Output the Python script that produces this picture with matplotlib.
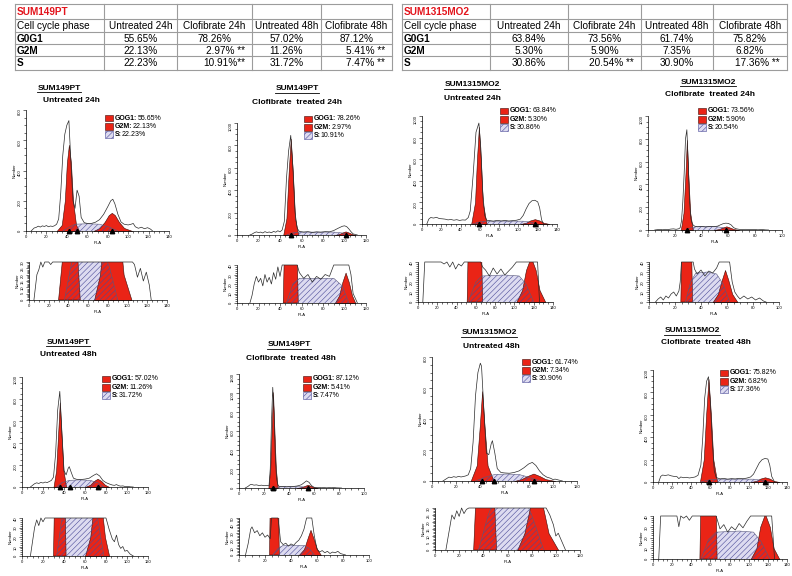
import numpy as np
import matplotlib
matplotlib.use("Agg")
from matplotlib import pyplot
from matplotlib.patches import Rectangle
from matplotlib.lines import Line2D
from matplotlib.ticker import MultipleLocator

# ---- tables ----
table_header = ["Cell cycle phase", "Untreated 24h", "Clofibrate 24h", "Untreated 48h", "Clofibrate 48h"]
phases = ["G0G1", "G2M", "S"]

sum149_g0g1 = [55.65, 78.26, 57.02, 87.12]
sum149_g2m = [22.13, 2.97, 11.26, 5.41]
sum149_s = [22.23, 10.91, 31.72, 7.47]
sum149_g0g1_sig = ["", "", "", ""]
sum149_g2m_sig = ["", " **", "", " **"]
sum149_s_sig = ["", "**", "", " **"]

sum1315_g0g1 = [63.84, 73.56, 61.74, 75.82]
sum1315_g2m = [5.30, 5.90, 7.35, 6.82]
sum1315_s = [30.86, 20.54, 30.90, 17.36]
sum1315_g0g1_sig = ["", "", "", ""]
sum1315_g2m_sig = ["", "", "", ""]
sum1315_s_sig = ["", " **", "", " **"]

# ---- histogram panels ----
panel_line = ["SUM149PT", "SUM149PT", "SUM1315MO2", "SUM1315MO2",
              "SUM149PT", "SUM149PT", "SUM1315MO2", "SUM1315MO2"]
panel_cond = ["Untreated 24h", "Clofibrate  treated 24h", "Untreated 24h", "Clofibrate  treated 24h",
              "Untreated 48h", "Clofibrate  treated 48h", "Untreated 48h", "Clofibrate  treated 48h"]
leg_g0g1 = [55.65, 78.26, 63.84, 73.56, 57.02, 87.12, 61.74, 75.82]
leg_g2m = [22.13, 2.97, 5.30, 5.90, 11.26, 5.41, 7.34, 6.82]
leg_s = [22.23, 10.91, 30.86, 20.54, 31.72, 7.47, 30.90, 17.36]

p1_raw_x = [5, 8, 10, 12, 14, 16, 18, 20, 22, 24, 26, 28, 30, 32, 34, 36, 38, 40, 42, 44, 46, 48, 50, 52, 54,
            57, 60, 64, 68, 72, 76, 80, 83, 85, 87, 90, 93, 96, 100, 103, 105, 107, 110, 113, 116, 119, 122, 124]
p1_raw_y = [0, 20, 24, 32, 26, 34, 30, 36, 28, 33, 30, 35, 45, 80, 250, 500, 640, 700, 730, 450, 200, 150, 270, 230, 90,
            55, 50, 50, 58, 75, 110, 160, 200, 210, 180, 110, 60, 45, 40, 45, 50, 28, 18, 25, 15, 22, 12, 0]
p1_g1_x = [30, 35, 38, 40, 42, 44, 46, 49, 52]
p1_g1_y = [0, 40, 200, 450, 570, 450, 200, 40, 0]
p1_g2_x = [66, 72, 77, 81, 84, 87, 91, 96, 104]
p1_g2_y = [0, 20, 60, 105, 120, 105, 60, 20, 0]
p1_s_x = [36, 42, 48, 60, 72, 82, 90]
p1_s_y = [0, 25, 45, 48, 45, 25, 0]
p1_marks = [42, 50, 84]

p2_raw_x = [12, 14, 16, 18, 20, 22, 24, 26, 28, 30, 32, 34, 36, 38, 40, 42, 44, 46, 48, 50,
            52, 54, 56, 58, 62, 66, 70, 74, 78, 82, 86, 90, 94, 98, 100, 102, 104, 106, 108, 112]
p2_raw_y = [0, 8, 20, 28, 22, 26, 18, 30, 22, 27, 20, 32, 25, 38, 28, 45, 120, 500, 750, 890,
            600, 200, 60, 32, 26, 30, 22, 28, 25, 30, 28, 40, 60, 78, 82, 75, 55, 30, 10, 0]
p2_g1_x = [43, 46, 48, 50, 52, 54, 57]
p2_g1_y = [0, 150, 550, 860, 550, 150, 0]
p2_g2_x = [91, 95, 98, 101, 104, 107, 110]
p2_g2_y = [0, 8, 22, 32, 22, 8, 0]
p2_s_x = [46, 52, 58, 75, 90, 98, 104]
p2_s_y = [0, 20, 26, 26, 26, 18, 0]
p2_marks = [50, 101]

p3_raw_x = [5, 7, 9, 12, 15, 18, 21, 24, 27, 30, 33, 36, 39, 42, 45, 48, 50, 53, 56, 59, 61,
            63, 65, 67, 70, 74, 78, 82, 86, 90, 94, 98, 102, 105, 108, 111, 114, 117, 120, 122, 124, 126]
p3_raw_y = [0, 45, 60, 55, 62, 50, 48, 45, 38, 42, 35, 40, 33, 38, 36, 60, 120, 450, 850, 935, 700,
            300, 80, 35, 32, 26, 34, 28, 33, 27, 31, 35, 45, 80, 140, 190, 215, 220, 205, 150, 40, 0]
p3_g1_x = [51, 55, 57, 59, 61, 63, 67]
p3_g1_y = [0, 200, 600, 900, 600, 200, 0]
p3_g2_x = [102, 108, 112, 117, 122, 126, 132]
p3_g2_y = [0, 12, 32, 45, 32, 12, 0]
p3_s_x = [52, 60, 66, 90, 105, 112, 120]
p3_s_y = [0, 20, 26, 27, 26, 18, 0]
p3_marks = [59, 117]

p4_raw_x = [5, 7, 9, 11, 13, 15, 17, 19, 21, 23, 24, 25, 26, 27, 28, 29, 30, 31, 32, 33, 34, 35,
            37, 40, 43, 46, 49, 52, 54, 56, 58, 60, 62, 64, 66, 68, 70, 73, 76, 79, 82, 85, 88, 90]
p4_raw_y = [0, 3, 5, 2, 6, 4, 8, 10, 6, 11, 20, 80, 250, 500, 800, 880, 600, 250, 100, 55, 40, 33,
            28, 32, 26, 31, 29, 34, 45, 55, 60, 58, 45, 20, 10, 6, 3, 6, 3, 5, 2, 4, 1, 0]
p4_g1_x = [24.5, 26.5, 28, 29, 30, 31.5, 33.5]
p4_g1_y = [0, 150, 500, 790, 500, 150, 0]
p4_g2_x = [49, 53, 56, 58.5, 61, 64, 68]
p4_g2_y = [0, 8, 22, 32, 22, 8, 0]
p4_s_x = [28, 32, 36, 45, 52, 57, 62]
p4_s_y = [0, 20, 29, 30, 28, 18, 0]
p4_marks = [29, 58]

p5_raw_x = [8, 10, 12, 14, 16, 18, 20, 22, 24, 26, 28, 30, 32, 34, 36, 38, 40, 42, 44, 45, 47,
            49, 52, 56, 60, 64, 68, 71, 74, 77, 80, 83, 86, 88, 90, 92, 94, 96, 98, 100, 103, 106]
p5_raw_y = [0, 15, 30, 38, 32, 42, 36, 45, 40, 50, 60, 90, 300, 700, 870, 500, 150, 110, 170, 185, 130,
            80, 70, 68, 72, 80, 105, 120, 100, 60, 40, 28, 18, 15, 22, 12, 8, 10, 5, 6, 2, 0]
p5_g1_x = [30, 32.5, 34.5, 36, 37.5, 39.5, 42]
p5_g1_y = [0, 150, 500, 770, 500, 150, 0]
p5_g2_x = [60, 65, 68.5, 72, 75.5, 79, 83]
p5_g2_y = [0, 20, 55, 75, 55, 20, 0]
p5_s_x = [33, 38, 45, 55, 65, 72, 78]
p5_s_y = [0, 40, 60, 65, 60, 40, 0]
p5_marks = [36, 46, 72]

p6_raw_x = [5, 7, 9, 10, 12, 14, 16, 18, 20, 22, 24, 25, 26, 27, 28, 29, 30, 31, 32, 34, 36, 38,
            40, 42, 44, 46, 48, 50, 52, 54, 56, 58, 60, 62, 64, 66, 68, 70, 72, 74, 76, 78, 80, 82]
p6_raw_y = [0, 15, 35, 38, 30, 33, 26, 30, 24, 27, 22, 200, 700, 1060, 800, 350, 100, 35, 18, 14, 16, 12,
            15, 13, 17, 20, 26, 35, 55, 75, 60, 25, 8, 4, 6, 3, 5, 2, 4, 3, 5, 2, 1, 0]
p6_g1_x = [23.5, 25, 26.2, 27.2, 28.2, 29.5, 31]
p6_g1_y = [0, 200, 650, 1010, 650, 200, 0]
p6_g2_x = [46, 50, 53, 55, 57, 60, 63]
p6_g2_y = [0, 8, 24, 34, 24, 8, 0]
p6_s_x = [26, 30, 34, 42, 50, 54, 58]
p6_s_y = [0, 9, 13, 13, 13, 9, 0]
p6_marks = [27, 55]

p7_raw_x = [9, 12, 14, 16, 18, 20, 22, 24, 26, 28, 30, 32, 34, 36, 38, 40, 41, 43, 45, 47, 49,
            50, 52, 54, 57, 60, 64, 68, 72, 76, 80, 83, 86, 89, 92, 95, 98, 100, 102, 104, 106, 108]
p7_raw_y = [0, 15, 25, 22, 28, 24, 30, 26, 29, 33, 40, 80, 250, 550, 700, 760, 740, 450, 180, 170, 240,
            260, 180, 80, 55, 52, 50, 55, 65, 85, 110, 120, 100, 65, 40, 25, 18, 10, 12, 8, 4, 0]
p7_g1_x = [32, 37, 39.5, 41.5, 43.5, 46, 51]
p7_g1_y = [0, 100, 350, 580, 350, 100, 0]
p7_g2_x = [68, 74, 79, 84, 89, 94, 102]
p7_g2_y = [0, 12, 32, 48, 32, 12, 0]
p7_s_x = [36, 44, 52, 62, 72, 80, 90]
p7_s_y = [0, 25, 42, 45, 42, 25, 0]
p7_marks = [41, 51, 84]

p8_raw_x = [6, 8, 10, 13, 16, 19, 22, 25, 27, 29, 32, 35, 38, 41, 44, 47, 50, 52, 54, 56, 58, 60,
            62, 64, 66, 70, 74, 78, 82, 86, 90, 94, 98, 102, 105, 108, 111, 114, 117, 120, 122, 124, 127]
p8_raw_y = [0, 50, 62, 58, 64, 55, 50, 48, 30, 45, 38, 42, 36, 40, 45, 60, 150, 400, 750, 900, 940, 700,
            350, 100, 40, 28, 32, 25, 30, 27, 33, 29, 35, 45, 70, 120, 170, 200, 210, 205, 150, 50, 0]
p8_g1_x = [49, 53, 55.5, 58, 60.5, 63, 67]
p8_g1_y = [0, 200, 600, 920, 600, 200, 0]
p8_g2_x = [102, 108, 112, 117, 122, 126, 132]
p8_g2_y = [0, 10, 30, 42, 30, 10, 0]
p8_s_x = [50, 58, 66, 90, 105, 113, 122]
p8_s_y = [0, 18, 25, 26, 25, 16, 0]
p8_marks = [58, 117]

panels = [
    (p1_raw_x, p1_raw_y, p1_g1_x, p1_g1_y, p1_g2_x, p1_g2_y, p1_s_x, p1_s_y, p1_marks),
    (p2_raw_x, p2_raw_y, p2_g1_x, p2_g1_y, p2_g2_x, p2_g2_y, p2_s_x, p2_s_y, p2_marks),
    (p3_raw_x, p3_raw_y, p3_g1_x, p3_g1_y, p3_g2_x, p3_g2_y, p3_s_x, p3_s_y, p3_marks),
    (p4_raw_x, p4_raw_y, p4_g1_x, p4_g1_y, p4_g2_x, p4_g2_y, p4_s_x, p4_s_y, p4_marks),
    (p5_raw_x, p5_raw_y, p5_g1_x, p5_g1_y, p5_g2_x, p5_g2_y, p5_s_x, p5_s_y, p5_marks),
    (p6_raw_x, p6_raw_y, p6_g1_x, p6_g1_y, p6_g2_x, p6_g2_y, p6_s_x, p6_s_y, p6_marks),
    (p7_raw_x, p7_raw_y, p7_g1_x, p7_g1_y, p7_g2_x, p7_g2_y, p7_s_x, p7_s_y, p7_marks),
    (p8_raw_x, p8_raw_y, p8_g1_x, p8_g1_y, p8_g2_x, p8_g2_y, p8_s_x, p8_s_y, p8_marks),
]

# layout in pixels: main box, lower box, x max, y max main, y max lower, legend, title positions
layouts = [
    dict(main=(26, 110, 169, 231), low=(29, 262, 167, 300), xmax=140, ymax=800, ylow=30, leg=(105, 118), t1=(59, 88), t2=(71, 101)),
    dict(main=(237, 123, 366, 235), low=(237, 265, 366, 303), xmax=120, ymax=1000, ylow=40, leg=(304, 119), t1=(297, 89), t2=(297, 103)),
    dict(main=(422, 116, 557, 224), low=(418, 262, 553, 302), xmax=140, ymax=1000, ylow=40, leg=(500, 111), t1=(472, 85), t2=(472, 98)),
    dict(main=(648, 116, 782, 230), low=(649, 262, 779, 302), xmax=100, ymax=1000, ylow=40, leg=(698, 111), t1=(708, 82), t2=(710, 95)),
    dict(main=(22, 377, 148, 487), low=(22, 518, 148, 556), xmax=120, ymax=1000, ylow=40, leg=(102, 379), t1=(68, 342), t2=(68, 355)),
    dict(main=(239, 374, 364, 488), low=(239, 518, 369, 555), xmax=100, ymax=1200, ylow=50, leg=(303, 379), t1=(289, 345), t2=(291, 359)),
    dict(main=(432, 357, 577, 481), low=(435, 508, 580, 550), xmax=120, ymax=800, ylow=30, leg=(522, 362), t1=(489, 333), t2=(491, 346)),
    dict(main=(653, 370, 787, 482), low=(653, 516, 787, 559), xmax=140, ymax=1000, ylow=40, leg=(720, 373), t1=(692, 331), t2=(706, 342)),
]

RED = '#ea2416'
S_FACE = '#dddbf0'
S_HATCH = '#4b4b98'
GRID = '#9c9c9c'

pyplot.rcParams['font.family'] = ['Liberation Sans', 'DejaVu Sans']
pyplot.rcParams['hatch.linewidth'] = 0.4

W, H = 792, 576
fig = pyplot.figure(figsize=(W / 100, H / 100), dpi=100)
renderer = fig.canvas.get_renderer()


def fx(x):
    return x / W


def fy(y):
    return 1 - y / H


def box(x0, y0, x1, y1):
    return [x0 / W, 1 - y1 / H, (x1 - x0) / W, (y1 - y0) / H]


def draw_table(xs, ys, title, rows, sigs):
    for y in ys:
        fig.add_artist(Line2D([fx(xs[0]), fx(xs[-1])], [fy(y), fy(y)], color=GRID, lw=0.8))
    for x in xs:
        fig.add_artist(Line2D([fx(x), fx(x)], [fy(ys[0]), fy(ys[-1])], color=GRID, lw=0.8))
    cy = [(ys[i] + ys[i + 1]) / 2 + 0.5 for i in range(len(ys) - 1)]
    fig.text(fx(xs[0] + 2), fy(cy[0]), title, color='#e3141c', fontweight='bold', fontsize=7.2, va='center')
    fig.text(fx(xs[0] + 2), fy(cy[1]), table_header[0], fontsize=7.2, va='center')
    for j, h in enumerate(table_header[1:]):
        fig.text(fx((xs[j + 1] + xs[j + 2]) / 2), fy(cy[1]), h, fontsize=7.2, va='center', ha='center')
    for i, (ph, vals, sg) in enumerate(zip(phases, rows, sigs)):
        fig.text(fx(xs[0] + 2), fy(cy[i + 2]), ph, fontsize=7.2, fontweight='bold', va='center')
        for j, v in enumerate(vals):
            s = f"{v:.2f}%" + sg[j]
            if sg[j]:
                fig.text(fx(xs[j + 2] - 7), fy(cy[i + 2]), s, fontsize=7.2, va='center', ha='right')
            else:
                fig.text(fx((xs[j + 1] + xs[j + 2]) / 2), fy(cy[i + 2]), s, fontsize=7.2, va='center', ha='center')


def style_axes(ax, xmax, ytop, ystep, yminor):
    ax.set_xlim(0, xmax)
    ax.set_ylim(0, ytop)
    ax.patch.set_alpha(0)
    for sp in ('top', 'right'):
        ax.spines[sp].set_visible(False)
    for sp in ('left', 'bottom'):
        ax.spines[sp].set_linewidth(0.5)
    ax.xaxis.set_major_locator(MultipleLocator(20))
    ax.xaxis.set_minor_locator(MultipleLocator(5))
    ax.yaxis.set_major_locator(MultipleLocator(ystep))
    ax.yaxis.set_minor_locator(MultipleLocator(yminor))
    ax.tick_params(which='both', direction='out', width=0.4, labelsize=3, pad=1)
    ax.tick_params(which='major', length=2)
    ax.tick_params(which='minor', length=1.2)
    ax.tick_params(axis='y', labelrotation=90)
    ax.set_xlabel('PI-A', fontsize=3, labelpad=1)
    ax.set_ylabel('Number', fontsize=3, labelpad=1)


def draw_hist(ax, d, ytop, low):
    raw_x, raw_y, g1_x, g1_y, g2_x, g2_y, s_x, s_y, marks = d
    ax.fill_between(s_x, s_y, facecolor=S_FACE, edgecolor='none', zorder=1)
    ax.fill_between(g1_x, g1_y, facecolor=RED, edgecolor='#3a0a06', linewidth=0.4, zorder=2)
    ax.fill_between(g2_x, g2_y, facecolor=RED, edgecolor='#3a0a06', linewidth=0.4, zorder=2)
    ax.fill_between(s_x, s_y, facecolor='none', edgecolor=S_HATCH, hatch='//////', linewidth=0, zorder=3)
    ax.plot(s_x, s_y, color='#5a5a7a', lw=0.4, zorder=3)
    if low:
        ax.plot(raw_x, np.minimum(raw_y, ytop), color='#2a2a2a', lw=0.5, zorder=4, clip_on=False)
    else:
        ax.plot(raw_x, raw_y, color='#2a2a2a', lw=0.5, zorder=4)
        ax.plot(marks, [0] * len(marks), '^', color='k', ms=3.2, zorder=5, clip_on=False)


def draw_legend(x, y, vals):
    names = ['GOG1:', 'G2M:', 'S:']
    for i, (n, v) in enumerate(zip(names, vals)):
        cy = y + i * 8.2
        if i < 2:
            r = Rectangle((fx(x), fy(cy + 3.3)), 8 / W, 6.6 / H, transform=fig.transFigure,
                          facecolor=RED, edgecolor='#3a0a06', lw=0.4)
        else:
            r = Rectangle((fx(x), fy(cy + 3.3)), 8 / W, 6.6 / H, transform=fig.transFigure,
                          facecolor=S_FACE, edgecolor=S_HATCH, lw=0.4, hatch='//////')
        fig.add_artist(r)
        t = fig.text(fx(x + 10), fy(cy), n, fontsize=5, fontweight='bold', va='center')
        bb = t.get_window_extent(renderer)
        fig.text(bb.x1 / W, fy(cy), f"{v:.2f}%", fontsize=5, va='center')


def draw_title(cx, cy, s, underline):
    t = fig.text(fx(cx), fy(cy), s, fontsize=6, fontweight='bold', ha='center', va='center')
    if underline:
        bb = t.get_window_extent(renderer)
        fig.add_artist(Line2D([bb.x0 / W, bb.x1 / W], [(bb.y0 - 0.6) / H] * 2, color='k', lw=0.6))


draw_table([15, 104, 177, 252, 321, 392], [4, 19, 32, 44, 56, 70], "SUM149PT",
           [sum149_g0g1, sum149_g2m, sum149_s], [sum149_g0g1_sig, sum149_g2m_sig, sum149_s_sig])
draw_table([402, 490, 568, 641, 713, 787], [4, 19, 32, 44, 56, 70], "SUM1315MO2",
           [sum1315_g0g1, sum1315_g2m, sum1315_s], [sum1315_g0g1_sig, sum1315_g2m_sig, sum1315_s_sig])

for k, (d, lay) in enumerate(zip(panels, layouts)):
    ax = fig.add_axes(box(*lay['main']))
    style_axes(ax, lay['xmax'], lay['ymax'], 200, 50)
    draw_hist(ax, d, lay['ymax'], False)

    axl = fig.add_axes(box(*lay['low']))
    ylow = lay['ylow']
    style_axes(axl, lay['xmax'], ylow, 5 if ylow <= 30 else 10, 1 if ylow <= 30 else 2)
    draw_hist(axl, d, ylow, True)

    draw_legend(lay['leg'][0], lay['leg'][1], [leg_g0g1[k], leg_g2m[k], leg_s[k]])
    draw_title(lay['t1'][0], lay['t1'][1], panel_line[k], True)
    draw_title(lay['t2'][0], lay['t2'][1], panel_cond[k], False)

fig.savefig('out.png', dpi=100)
